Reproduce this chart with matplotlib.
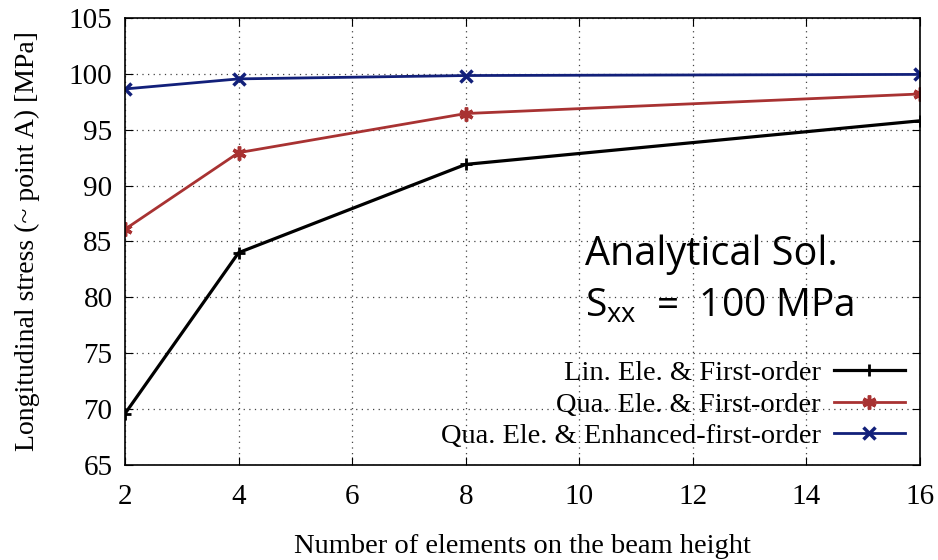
import matplotlib
matplotlib.use("Agg")
import matplotlib.pyplot as plt

x_vals = [2, 4, 8, 16]
lin_first = [69.6, 84.0, 91.9, 95.8]
qua_first = [86.1, 92.95, 96.45, 98.2]
qua_enh = [98.65, 99.55, 99.85, 99.95]
labels = ["Lin. Ele. & First-order", "Qua. Ele. & First-order",
          "Qua. Ele. & Enhanced-first-order"]
x_ticks = [2, 4, 6, 8, 10, 12, 14, 16]
y_ticks = [65, 70, 75, 80, 85, 90, 95, 100, 105]

plt.rcParams["mathtext.fontset"] = "custom"
plt.rcParams["mathtext.rm"] = "Open Sans"

serif = "Liberation Serif"
fig = plt.figure(figsize=(9.38, 5.6), dpi=100)
ax = fig.add_axes([0.1333, 0.1696, 0.8475, 0.7983])

ax.plot(x_vals, lin_first, color="black", lw=2.3, marker="+", ms=9, mew=2, label=labels[0])
ax.plot(x_vals, qua_first, color="#a83232", lw=2.0, marker=(6, 2, 0), ms=10, mew=2.5, label=labels[1])
ax.plot(x_vals, qua_enh, color="#12207a", lw=2.0, marker="x", ms=8, mew=2.5, label=labels[2])

ax.set_xlim(2, 16)
ax.set_ylim(65, 105)
ax.set_xticks(x_ticks)
ax.set_yticks(y_ticks)
ax.grid(True, linestyle=(0, (1, 3.5)), color="#444444", lw=0.9)
ax.tick_params(direction="in", length=6, top=True, right=True, labelsize=21)
ax.tick_params(axis="x", pad=14)
ax.tick_params(axis="y", pad=9)
for lab in ax.get_xticklabels() + ax.get_yticklabels():
    lab.set_fontfamily(serif)
for sp in ax.spines.values():
    sp.set_linewidth(1.2)

ax.set_xlabel("Number of elements on the beam height", fontfamily=serif, fontsize=20.5, labelpad=17)
ax.set_ylabel("Longitudinal stress (~ point A) [MPa]", fontfamily=serif, fontsize=20, labelpad=21)

ax.text(0.579, (465 - 265) / 447, "Analytical Sol.", transform=ax.transAxes,
        fontfamily="Open Sans", fontsize=28.5, va="baseline", ha="left")
ax.text(0.579, (465 - 317) / 447, "$\\mathregular{S_{xx}}$  =  100 MPa", transform=ax.transAxes,
        fontfamily="Open Sans", fontsize=28, va="baseline", ha="left")

leg = ax.legend(loc="lower right", bbox_to_anchor=(0.981, 0.035), frameon=False, markerfirst=False,
                prop={"family": serif, "size": 20.5}, handlelength=2.5, labelspacing=0.2,
                handletextpad=0.45, borderaxespad=0.0, borderpad=0.0)
leg.set_zorder(5)

fig.savefig("out.png", dpi=100)
